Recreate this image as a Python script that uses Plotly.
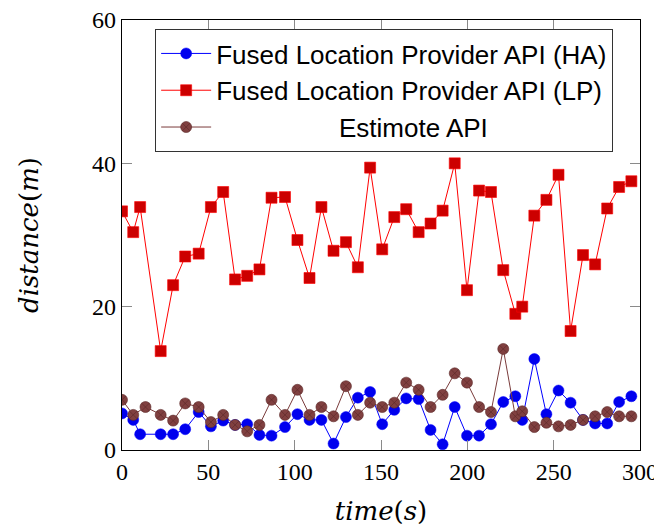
import plotly.graph_objects as go

# time stamps (s)
time_s = [0, 6.5, 10.5, 22.4, 29.6, 36.6, 44.4, 51.5, 58.6, 65.5, 72.5, 79.6, 86.6, 94.4,
          101.6, 108.6, 115.5, 122.5, 129.7, 136.6, 143.7, 150.7, 157.7, 164.6, 171.8,
          178.7, 185.7, 192.7, 199.8, 206.8, 213.7, 220.8, 227.8, 231.8, 238.8, 245.8,
          252.8, 259.8, 267.0, 274.0, 281.0, 287.9, 295.0]
time_est = [0, 6.5, 13.6, 22.4, 29.6, 36.6, 44.4, 51.5, 58.6, 65.5, 72.5, 79.6, 86.6, 94.4,
            101.6, 108.6, 115.5, 122.5, 129.7, 136.6, 143.7, 150.7, 157.7, 164.6, 171.8,
            178.7, 185.7, 192.7, 199.8, 206.8, 213.7, 220.8, 227.8, 231.8, 238.8, 245.8,
            252.8, 259.8, 267.0, 274.0, 281.0, 287.9, 295.0]

fused_ha = [5.1, 4.2, 2.2, 2.2, 2.2, 2.9, 5.3, 3.3, 4.1, 3.5, 3.6, 2.1, 2.0, 3.2,
            5.0, 4.2, 4.2, 0.9, 4.6, 7.3, 8.1, 3.6, 5.6, 7.2, 7.1, 2.8, 0.8, 6.0,
            2.0, 2.0, 3.6, 6.7, 7.5, 4.2, 12.7, 5.0, 8.3, 6.6, 4.2, 3.7, 3.7, 6.7, 7.5]
fused_lp = [33.3, 30.4, 33.9, 13.8, 23.0, 27.0, 27.4, 33.9, 36.0, 23.8, 24.3, 25.2, 35.2, 35.3,
            29.3, 24.0, 33.9, 27.8, 29.0, 25.5, 39.4, 28.0, 32.5, 33.6, 30.4, 31.6, 33.4, 40.0,
            22.3, 36.2, 36.0, 25.1, 19.0, 20.0, 32.7, 34.9, 38.4, 16.6, 27.2, 25.9, 33.7, 36.7, 37.5]
estimote = [7.0, 4.9, 6.0, 4.9, 4.1, 6.5, 6.0, 3.9, 4.9, 3.5, 2.6, 3.5, 7.0, 4.9,
            8.4, 4.9, 6.0, 4.7, 8.9, 4.9, 6.6, 6.0, 6.6, 9.4, 8.4, 6.0, 7.7, 10.7,
            9.4, 6.0, 5.3, 14.1, 4.7, 5.4, 3.2, 3.8, 3.3, 3.5, 4.2, 4.7, 5.3, 4.7, 4.7]

x_ticks = [0, 50, 100, 150, 200, 250, 300]
y_ticks = [0, 20, 40, 60]

NB = "\u00a0"
fig = go.Figure()
fig.add_trace(go.Scatter(
    x=time_s, y=fused_ha, mode="lines+markers",
    name="Fused Location Provider API (HA)",
    line=dict(color="#0000ff", width=1),
    marker=dict(symbol="circle", size=11, color="#0000ee", line=dict(color="#0000ff", width=0.5))))
fig.add_trace(go.Scatter(
    x=time_s, y=fused_lp, mode="lines+markers",
    name="Fused Location Provider API (LP)",
    line=dict(color="#ff0000", width=1),
    marker=dict(symbol="square", size=11, color="#cc0000", line=dict(color="#ff0000", width=0.6))))
fig.add_trace(go.Scatter(
    x=time_est, y=estimote, mode="lines+markers",
    name=NB * 17 + "Estimote API",
    line=dict(color="#7a3b3b", width=1),
    marker=dict(symbol="circle-x", size=11, color="#804040", line=dict(color="#5a2626", width=0.6))))

serif = "Liberation Serif"
title_font = "DejaVu Serif"
axis_common = dict(
    showline=True, linecolor="black", linewidth=1.2, mirror="ticks",
    ticks="inside", ticklen=10, tickcolor="#8a8a8a", tickwidth=1,
    showgrid=False, zeroline=False, automargin=False, ticklabeloverflow="allow",
    tickfont=dict(family=serif, size=24, color="black"),
)
fig.update_xaxes(range=[0, 300], tickvals=x_ticks, ticktext=[str(v) for v in x_ticks],
                 title=dict(text="<i>time</i>(<i>s</i>)", font=dict(family=title_font, size=26, color="black"),
                            standoff=17),
                 **axis_common)
fig.update_yaxes(range=[0, 60], tickvals=y_ticks, ticktext=[str(v) for v in y_ticks],
                 title=dict(text="<i>distance</i>(<i>m</i>)", font=dict(family=title_font, size=26, color="black"),
                            standoff=45),
                 **axis_common)

# page body has an 8px margin: size/margins chosen so plot area lands at x 122-640, y 20-450
fig.update_layout(
    width=654, height=519,
    margin=dict(l=114, r=22, t=12, b=77),
    paper_bgcolor="white", plot_bgcolor="white",
    showlegend=True,
    legend=dict(x=0.064, y=0.979, xanchor="left", yanchor="top",
                bgcolor="white", bordercolor="#333333", borderwidth=1,
                font=dict(family="Liberation Sans", size=26, color="black"),
                itemwidth=50, tracegroupgap=0),
)

fig.write_html("out.html")
